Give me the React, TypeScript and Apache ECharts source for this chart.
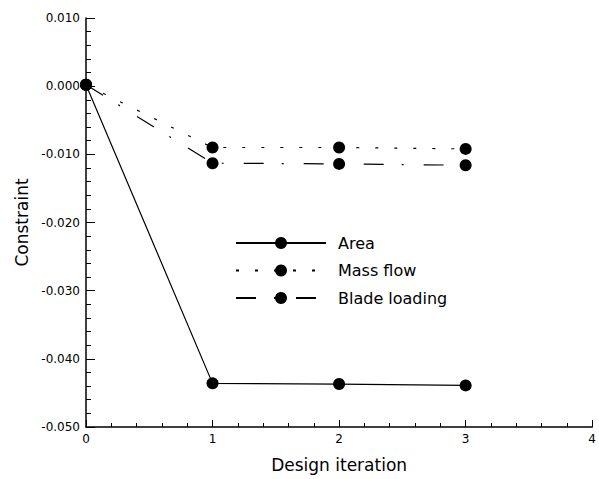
import React, { useEffect, useRef } from "react";
import * as echarts from "echarts";

const iterations = [0, 1, 2, 3];
const area = [0.0002, -0.0436, -0.0437, -0.0439];
const massFlow = [0.0002, -0.009, -0.009, -0.0092];
const bladeLoading = [0.0002, -0.0113, -0.0114, -0.0116];
const seriesNames = ["Area", "Mass flow", "Blade loading"];

const FONT = "DejaVu Sans";

export default function App() {
  const ref = useRef<HTMLDivElement>(null);
  useEffect(() => {
    if (!ref.current) return;
    const chart = echarts.init(ref.current, undefined, { renderer: "svg" });
    const pts = (vals: number[]) => iterations.map((x, i) => [x, vals[i]]);
    const common = {
      type: "line",
      symbol: "circle",
      symbolSize: 12,
      itemStyle: { color: "#000" },
      silent: true,
    };
    chart.setOption({
      animation: false,
      backgroundColor: "#fff",
      grid: { left: 86, right: 6, top: 18, bottom: 52 },
      legend: {
        orient: "vertical",
        left: 235,
        top: 235,
        padding: 0,
        itemWidth: 90,
        itemHeight: 15,
        itemGap: 11.5,
        data: seriesNames,
        textStyle: { fontSize: 16, fontFamily: FONT, color: "#000", padding: [0, 0, 0, 7] },
      },
      xAxis: {
        type: "value",
        min: 0,
        max: 4,
        interval: 1,
        name: "Design iteration",
        nameLocation: "middle",
        nameGap: 29,
        nameTextStyle: { fontSize: 17, fontFamily: FONT, color: "#000" },
        axisLine: { onZero: false, lineStyle: { color: "#000", width: 1.5 } },
        axisTick: { inside: true, length: 7, lineStyle: { color: "#000" } },
        minorTick: { show: true, splitNumber: 5, length: 4, lineStyle: { color: "#000" } },
        splitLine: { show: false },
        axisLabel: { fontSize: 12, fontFamily: FONT, color: "#000", margin: 6 },
      },
      yAxis: {
        type: "value",
        min: -0.05,
        max: 0.01,
        interval: 0.01,
        name: "Constraint",
        nameLocation: "middle",
        nameGap: 56,
        nameTextStyle: { fontSize: 17, fontFamily: FONT, color: "#000" },
        axisLine: { onZero: false, lineStyle: { color: "#000", width: 1.5 } },
        axisTick: { inside: true, length: 9, lineStyle: { color: "#000" } },
        minorTick: { show: true, splitNumber: 5, length: 5, lineStyle: { color: "#000" } },
        splitLine: { show: false },
        axisLabel: {
          fontSize: 12,
          fontFamily: FONT,
          color: "#000",
          margin: 6,
          formatter: (v: number) => (Math.abs(v) < 1e-9 ? "0.000" : v.toFixed(3)),
        },
      },
      series: [
        {
          ...common,
          name: "Area",
          data: pts(area),
          lineStyle: { color: "#000", width: 1.2, type: "solid" },
        },
        {
          ...common,
          name: "Mass flow",
          data: pts(massFlow),
          lineStyle: { color: "#000", width: 1.2, type: [3, 16] },
        },
        {
          ...common,
          name: "Blade loading",
          data: pts(bladeLoading),
          lineStyle: { color: "#000", width: 1.2, type: [20, 18, 2, 20] },
        },
      ],
    });
    return () => chart.dispose();
  }, []);
  return (
    <div
      ref={ref}
      style={{ position: "absolute", left: 0, top: 0, width: 599, height: 479 }}
    />
  );
}
